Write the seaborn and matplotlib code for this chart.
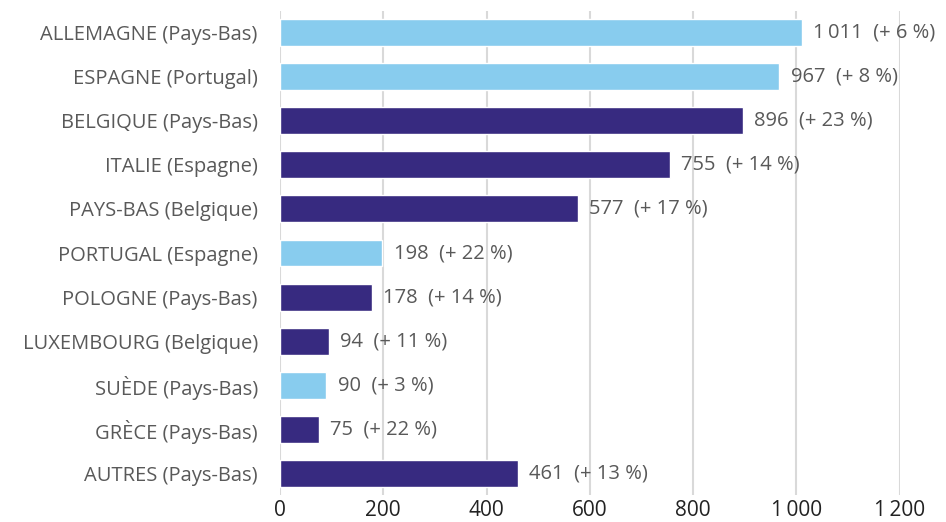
import matplotlib
matplotlib.use('Agg')
import matplotlib.pyplot as plt
import seaborn as sns
import pandas as pd

# donnees
pays = ['ALLEMAGNE (Pays-Bas)', 'ESPAGNE (Portugal)', 'BELGIQUE (Pays-Bas)', 'ITALIE (Espagne)',
        'PAYS-BAS (Belgique)', 'PORTUGAL (Espagne)', 'POLOGNE (Pays-Bas)', 'LUXEMBOURG (Belgique)',
        'SUÈDE (Pays-Bas)', 'GRÈCE (Pays-Bas)', 'AUTRES (Pays-Bas)']
valeurs = [1011, 967, 896, 755, 577, 198, 178, 94, 90, 75, 461]
variations = ['+ 6 %', '+ 8 %', '+ 23 %', '+ 14 %', '+ 17 %', '+ 22 %', '+ 14 %', '+ 11 %', '+ 3 %', '+ 22 %', '+ 13 %']
groupe = ['clair', 'clair', 'fonce', 'fonce', 'fonce', 'clair', 'fonce', 'fonce', 'clair', 'fonce', 'fonce']

couleurs = {'clair': '#88CCEE', 'fonce': '#372A80'}
gris = '#595959'

df = pd.DataFrame({'pays': pays, 'valeur': valeurs, 'groupe': groupe})

sns.set_style('white')
plt.rcParams['font.family'] = ['Open Sans', 'DejaVu Sans']

fig = plt.figure(figsize=(9.46, 5.22), dpi=100)
ax = fig.add_axes([0.296, 0.0508, 0.655, 0.929])

sns.barplot(data=df, x='valeur', y='pays', hue='groupe', palette=couleurs, saturation=1,
            dodge=False, width=0.61, legend=False, ax=ax, zorder=3)

# etiquettes
for i, (v, var) in enumerate(zip(valeurs, variations)):
    txt = f'{v:,}'.replace(',', '\u2009') + f'  ({var})'
    ax.text(v + 22, i, txt, va='center', ha='left', fontsize=14.5, color=gris)

ax.set_xlim(0, 1200)
ax.set_ylim(10.5, -0.5)
ax.set_xticks([0, 200, 400, 600, 800, 1000, 1200])
ax.set_xticklabels(['0', '200', '400', '600', '800', '1\u2009000', '1\u2009200'])
ax.xaxis.grid(True, color='#D9D9D9', linewidth=1.5, zorder=0)
ax.set_xlabel('')
ax.set_ylabel('')
for s in ax.spines.values():
    s.set_visible(False)
ax.tick_params(axis='x', labelsize=15, colors='black', length=0, pad=3)
ax.tick_params(axis='y', labelsize=14.5, labelcolor=gris, length=0, pad=16)
for lbl in ax.get_xticklabels():
    lbl.set_color('#222222')

fig.savefig('out.png', dpi=100)
